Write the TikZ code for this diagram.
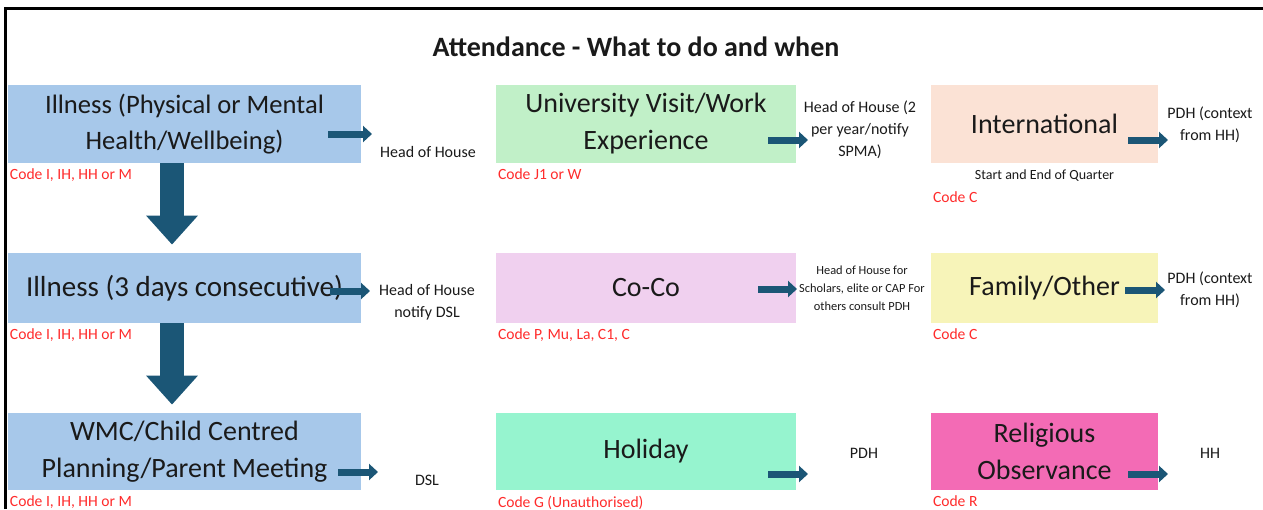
\documentclass[tikz,border=0pt]{standalone}
\usepackage{fontspec}
\setmainfont{Carlito}
\usetikzlibrary{positioning,arrows.meta}

\definecolor{illBlue}{HTML}{A7C8EA}
\definecolor{uniGreen}{HTML}{C1F0C8}
\definecolor{intPeach}{HTML}{FBE2D5}
\definecolor{cocoPink}{HTML}{F0D0EF}
\definecolor{famYellow}{HTML}{F7F4B9}
\definecolor{holMint}{HTML}{96F4CF}
\definecolor{relPink}{HTML}{F36BB5}
\definecolor{arrBlue}{HTML}{1B5676}
\definecolor{codeRed}{HTML}{FF2B2B}
\definecolor{txtGray}{HTML}{1A1A1A}

\tikzset{
  catbox/.style={fill=#1, align=center, inner sep=0pt, text=txtGray,
    font=\fontsize{14}{18.5}\selectfont},
  colA/.style={minimum width=176.5pt},
  colB/.style={minimum width=150pt},
  colC/.style={minimum width=113.5pt},
  codetxt/.style={text=codeRed, inner sep=0.5pt, font=\fontsize{7.8}{9}\selectfont},
  notetxt/.style={align=center, inner sep=0pt, text=txtGray, font=\fontsize{8}{11}\selectfont},
  smallarr/.style={draw=arrBlue, line width=3.5pt, -{Triangle[length=4.5pt, width=8pt]}},
  bigarr/.style={draw=arrBlue, line width=12pt, -{Triangle[length=14.5pt, width=25pt]}}
}

\begin{document}
\begin{tikzpicture}[x=0.5pt, y=-0.5pt]
\useasboundingbox (0,0) rectangle (1263,509);
% Rahmen
\draw[line width=1.5pt] (5,509) -- (5,8.5) -- (1263,8.5);
% Titel
\node[font=\bfseries\fontsize{14}{16}\selectfont, text=txtGray] (title) at (636,47) {Attendance - What to do and when};

% Linke Spalte
\node[catbox=illBlue, colA, minimum height=39pt, font=\fontsize{13.3}{18}\selectfont] (ill) at (184.5,124) {Illness (Physical or Mental\\Health/Wellbeing)};
\node[catbox=illBlue, colA, minimum height=35pt, font=\fontsize{14.5}{18}\selectfont] (ill3) at (184.5,288) {Illness (3 days consecutive)};
\node[catbox=illBlue, colA, minimum height=38.5pt] (wmc) at (184.5,451.5) {WMC/Child Centred\\Planning/Parent Meeting};

% Mittlere Spalte
\node[catbox=uniGreen, colB, minimum height=39pt] (uni) at (646,124) {University Visit/Work\\Experience};
\node[catbox=cocoPink, colB, minimum height=35pt] (coco) at (646,288) {Co-Co};
\node[catbox=holMint, colB, minimum height=38.5pt] (hol) at (646,451.5) {Holiday};

% Rechte Spalte
\node[catbox=intPeach, colC, minimum height=39pt] (intl) at (1044.5,124) {International};
\node[catbox=famYellow, colC, minimum height=35pt] (fam) at (1044.5,288) {Family/Other};
\node[catbox=relPink, colC, minimum height=38.5pt] (rel) at (1044.5,451.5) {Religious\\Observance};

% Codes
\node[codetxt, below right=2pt and 0.5pt of ill.south west] (cIll) {Code I, IH, HH or M};
\node[codetxt, below right=2pt and 0.5pt of ill3.south west] (cIll3) {Code I, IH, HH or M};
\node[codetxt, below right=2pt and 0.5pt of wmc.south west] (cWmc) {Code I, IH, HH or M};
\node[codetxt, below right=2pt and 0.5pt of uni.south west] (cUni) {Code J1 or W};
\node[codetxt, below right=2pt and 0.5pt of coco.south west] (cCoco) {Code P, Mu, La, C1, C};
\node[codetxt, below right=2pt and 0.5pt of hol.south west] (cHol) {Code G (Unauthorised)};
\node[notetxt, font=\fontsize{7}{9}\selectfont, below=3pt of intl.south] (quarter) {Start and End of Quarter};
\node[codetxt, below right=13.5pt and 0.5pt of intl.south west] (cIntl) {Code C};
\node[codetxt, below right=2pt and 0.5pt of fam.south west] (cFam) {Code C};
\node[codetxt, below right=2pt and 0.5pt of rel.south west] (cRel) {Code R};

% Wer wird informiert
\node[notetxt] (hh1) at (428,152) {Head of House};
\node[notetxt] (hh2) at (860,130) {Head of House (2\\per year/notify\\SPMA)};
\node[notetxt] (pdh1) at (1210,125) {PDH (context\\from HH)};
\node[notetxt] (hh3) at (427,302) {Head of House\\notify DSL};
\node[notetxt, font=\fontsize{6.2}{9}\selectfont] (hh4) at (862,288) {Head of House for\\Scholars, elite or CAP For\\others consult PDH};
\node[notetxt] (pdh2) at (1210,290) {PDH (context\\from HH)};
\node[notetxt] (dsl) at (427,480) {DSL};
\node[notetxt] (pdh3) at (864,453) {PDH};
\node[notetxt] (hh5) at (1210,453) {HH};

% Pfeilenden
\coordinate (e1) at (372,134);
\coordinate (e2) at (808,140);
\coordinate (e3) at (1168,140);
\coordinate (e4) at (370,291);
\coordinate (e5) at (797,289);
\coordinate (e6) at (1165,290);
\coordinate (e7) at (378,472);
\coordinate (e8) at (808,474);
\coordinate (e9) at (1168,474);

% Kleine Pfeile
\draw[smallarr] ([shift={(-33,10)}]ill.east) -- (e1);
\draw[smallarr] ([shift={(-28,16)}]uni.east) -- (e2);
\draw[smallarr] ([shift={(-30,16)}]intl.east) -- (e3);
\draw[smallarr] ([shift={(-31,3)}]ill3.east) -- (e4);
\draw[smallarr] ([shift={(-38,1)}]coco.east) -- (e5);
\draw[smallarr] ([shift={(-33,2)}]fam.east) -- (e6);
\draw[smallarr] ([shift={(-23,20.5)}]wmc.east) -- (e7);
\draw[smallarr] ([shift={(-28,22.5)}]hol.east) -- (e8);
\draw[smallarr] ([shift={(-30,22.5)}]rel.east) -- (e9);

% Grosse Pfeile
\draw[bigarr] ([shift={(-12.5,0)}]ill.south) -- ([shift={(-12.5,-8)}]ill3.north);
\draw[bigarr] ([shift={(-12.5,0)}]ill3.south) -- ([shift={(-12.5,-8)}]wmc.north);
\end{tikzpicture}
\end{document}
